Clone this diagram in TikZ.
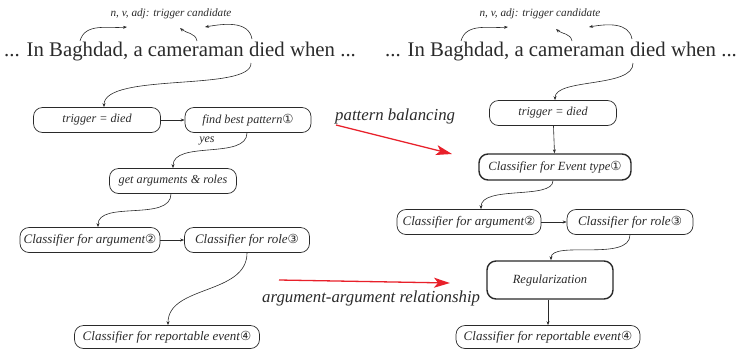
\documentclass[tikz,border=0pt]{standalone}
\usepackage{fontspec}
\setmainfont{Liberation Serif}
\newfontfamily\circfont{DejaVu Sans}
\usetikzlibrary{arrows.meta}
\definecolor{inkc}{HTML}{2A2A2A}
\definecolor{redc}{HTML}{E8202A}
\newcommand{\cnum}[1]{{\circfont\fontsize{12.5}{12.5}\selectfont #1}}
\tikzset{
  box/.style={draw=inkc, rounded corners=9pt, line width=0.7pt, minimum height=25pt,
    text=inkc, inner xsep=3pt, inner ysep=2pt, font=\itshape\fontsize{13}{15}\selectfont},
  smallbox/.style={box, font=\itshape\fontsize{12.2}{14}\selectfont},
  thickbox/.style={box, line width=1.4pt},
  link/.style={draw=inkc, line width=0.6pt, -{Stealth[length=4pt,width=3pt]}},
  redarrow/.style={draw=redc, line width=1.3pt, -{Stealth[length=16pt,width=10pt,inset=4pt]}},
  sentence/.style={text=inkc, inner sep=0pt, font=\fontsize{20.8}{24}\selectfont},
  toplabel/.style={text=inkc, inner sep=0pt, font=\itshape\fontsize{11.2}{13}\selectfont},
  note/.style={text=inkc, inner sep=0pt, font=\itshape\fontsize{16.8}{19}\selectfont},
}
\begin{document}
\begin{tikzpicture}[x=1pt,y=-1pt]
\useasboundingbox (0,0) rectangle (739,349);

% ---------------- left pipeline ----------------
\node[toplabel] (lab1) at (171,14) {n, v, adj: trigger candidate};
\node[sentence] (s1) at (180,52) {... In Baghdad, a cameraman died when ...};
\coordinate (bag1) at (80,41);
\coordinate (cam1) at (197,41);
\coordinate (die1) at (252,39);
\coordinate (die1b) at (251,63);
\coordinate (l1a) at (127,27);
\coordinate (l1b) at (180,28);
\coordinate (l1c) at (205,27);
\draw[link] (bag1) to[out=75,in=185] (l1a);
\draw[link] (cam1) to[out=100,in=-40] (l1b);
\draw[link] (die1) to[out=100,in=10] (l1c);

\node[smallbox, minimum width=127pt] (t1) at (97,120) {trigger = died};
\node[smallbox, minimum width=126pt] (p1) at (248,120) {find best pattern\cnum{①}};
\node[smallbox, minimum width=127pt] (g1) at (173,181) {get arguments \& roles};
\node[box, minimum width=140pt] (a1) at (90,240) {Classifier for argument\cnum{②}};
\node[box, minimum width=125pt] (r1) at (247,240) {Classifier for role\cnum{③}};
\node[box, minimum width=185pt, minimum height=23pt] (e1) at (167,337) {Classifier for reportable event\cnum{④}};

\draw[link] (die1b) .. controls (252,92) and (104,72) .. (t1.north -| 104,0);
\draw[link] (t1) -- (p1);
\draw[link] (p1.south -| 247,0) .. controls (247,160) and (173,140) .. (g1.north);
\node[toplabel, font=\itshape\fontsize{12}{14}\selectfont] (yes1) at (207,141) {yes};
\draw[link] (g1.south -| 171,0) .. controls (171,222) and (98,200) .. (a1.north -| 98,0);
\draw[link] (a1) -- (r1);
\draw[link] (r1.south -| 247,0) .. controls (247,295) and (168,285) .. (e1.north -| 168,0);

% ---------------- right pipeline ----------------
\node[toplabel] (lab2) at (540,14) {n, v, adj: trigger candidate};
\node[sentence] (s2) at (561,52) {... In Baghdad, a cameraman died when ...};
\coordinate (bag2) at (461,41);
\coordinate (cam2) at (572,41);
\coordinate (die2) at (632,39);
\coordinate (die2b) at (633,63);
\coordinate (l2a) at (508,27);
\coordinate (l2b) at (556,29);
\coordinate (l2c) at (589,27);
\draw[link] (bag2) to[out=75,in=185] (l2a);
\draw[link] (cam2) to[out=100,in=-40] (l2b);
\draw[link] (die2) to[out=100,in=10] (l2c);

\node[smallbox, minimum width=127pt] (t2) at (553,113) {trigger = died};
\node[thickbox, minimum width=152pt, minimum height=26pt, font=\itshape\fontsize{12.5}{14}\selectfont] (ev2) at (555,167) {Classifier for Event type\cnum{①}};
\node[box, minimum width=144pt] (a2) at (469,222) {Classifier for argument\cnum{②}};
\node[box, minimum width=126pt] (r2) at (630,222) {Classifier for role\cnum{③}};
\node[thickbox, minimum width=126pt, minimum height=38pt, font=\itshape\fontsize{12.5}{14}\selectfont] (reg2) at (550,280) {Regularization};
\node[box, minimum width=184pt, minimum height=23pt] (e2) at (548,337) {Classifier for reportable event\cnum{④}};

\draw[link] (die2b) .. controls (634,88) and (555,78) .. (t2.north -| 555,0);
\draw[link] (t2) -- (ev2);
\draw[link] (ev2.south -| 553,0) .. controls (553,200) and (481,185) .. (a2.north -| 481,0);
\draw[link] (a2) -- (r2);
\draw[link] (r2.south -| 630,0) .. controls (630,262) and (551,240) .. (reg2.north -| 551,0);
\draw[link] (reg2.south -| 548,0) -- (e2.north -| 548,0);

% ---------------- transfer arrows ----------------
\node[note, anchor=west] (pb) at (335,116) {pattern balancing};
\node[note, anchor=west] (aa) at (262,298) {argument-argument relationship};
\coordinate (pbs) at (336,125);
\coordinate (pbe) at (452,154);
\coordinate (aas) at (279,280);
\coordinate (aae) at (450,283);
\draw[redarrow] (pbs) -- (pbe);
\draw[redarrow] (aas) -- (aae);
\end{tikzpicture}
\end{document}
